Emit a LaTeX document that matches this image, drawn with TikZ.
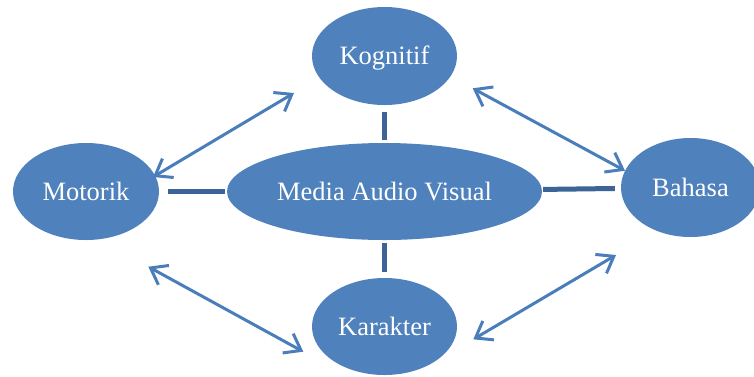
\documentclass[tikz,border=0pt]{standalone}
\usepackage{fontspec}
\setmainfont{Liberation Serif}
\usetikzlibrary{shapes.geometric,arrows.meta}
\definecolor{nodeblue}{HTML}{4F81BD}
\definecolor{barblue}{HTML}{3C6496}
\definecolor{arrblue}{HTML}{4A7EBB}
\begin{document}
\begin{tikzpicture}[x=1pt, y=-1pt,
  v/.style={ellipse, fill=nodeblue, text=white, inner sep=0pt,
    font=\fontsize{26.5}{30}\selectfont, text height=17.5pt, text depth=0pt},
  e/.style={barblue, line width=5pt},
  ar/.style={<->, arrblue, line width=3pt, >={Straight Barb[length=15pt, width=22pt]}}
]
\useasboundingbox (0,0) rectangle (754,376);
\node[v, minimum width=145pt, minimum height=98pt] (kog) at (384.5,56) {Kognitif};
\node[v, minimum width=146pt, minimum height=97pt] (mot) at (86,191.5) {Motorik};
\node[v, minimum width=315pt, minimum height=97pt] (mav) at (384.5,191.5) {Media Audio Visual};
\node[v, minimum width=139pt, minimum height=99pt] (bah) at (690.5,187.5) {Bahasa};
\node[v, minimum width=145pt, minimum height=97pt] (kar) at (384.5,326.5) {Karakter};

\draw[e, shorten <=9pt, shorten >=2pt] (mot) -- (mav);
\draw[e, shorten <=1pt, shorten >=6pt] (mav) -- (bah);
\draw[e, shorten <=7pt, shorten >=3pt] (kog) -- (mav);
\draw[e, shorten <=3pt, shorten >=6pt] (mav) -- (kar);

% double arrows between the outer ellipses
\draw[ar] ([shift={(67,-14.5)}]mot.center) -- ([shift={(-90.5,37)}]kog.center);
\draw[ar] ([shift={(88.2,32.3)}]kog.center) -- ([shift={(-65.5,-16.8)}]bah.center);
\draw[ar] ([shift={(62.3,75.2)}]mot.center) -- ([shift={(-81.2,25.2)}]kar.center);
\draw[ar] ([shift={(88.8,12.8)}]kar.center) -- ([shift={(-74.5,67.5)}]bah.center);
\end{tikzpicture}
\end{document}
